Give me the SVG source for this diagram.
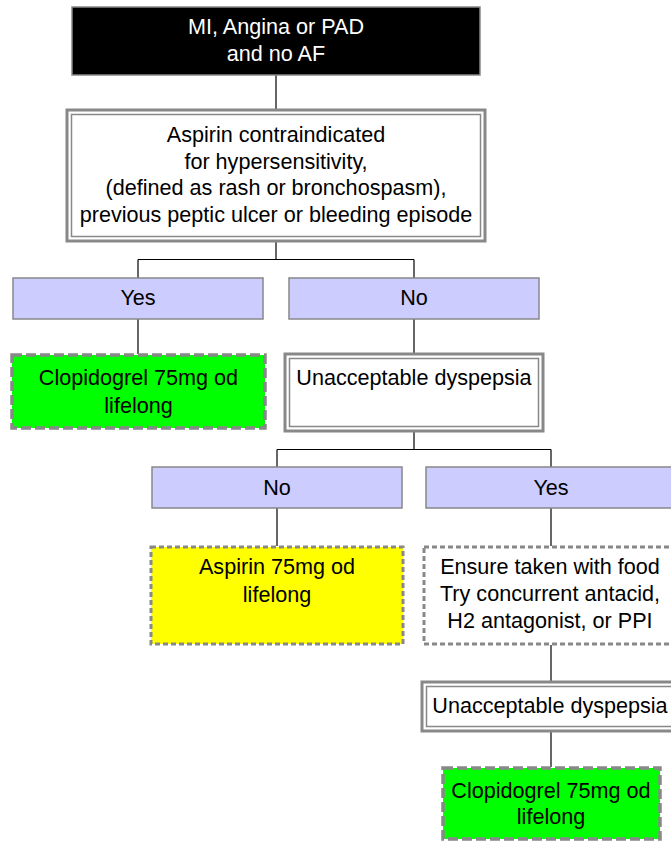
<svg xmlns="http://www.w3.org/2000/svg" width="671" height="841" viewBox="0 0 671 841">
<style>
text{font-family:"Liberation Sans",Arial,sans-serif;font-size:21.6px;text-anchor:middle;fill:#000}
.lbl{fill:#ccccff;stroke:#888;stroke-width:1.5}
.dbl{fill:#fff;stroke:#888;stroke-width:3}
.dbli{fill:none;stroke:#888;stroke-width:1.5}
.dash{stroke:#888;stroke-width:3.5;stroke-dasharray:10 4}
.dot{stroke:#888;stroke-width:3;stroke-dasharray:5 3}
.conn line{stroke:#000;stroke-width:1.2}
</style>
<g class="conn" id="connectors">
<line x1="276" y1="75" x2="276" y2="110"/>
<line x1="276" y1="241" x2="276" y2="259.5"/>
<line x1="138" y1="259.5" x2="414" y2="259.5"/>
<line x1="138" y1="259.5" x2="138" y2="278"/>
<line x1="414" y1="259.5" x2="414" y2="278"/>
<line x1="138" y1="319" x2="138" y2="354"/>
<line x1="414" y1="319" x2="414" y2="353"/>
<line x1="414" y1="432" x2="414" y2="449.5"/>
<line x1="277" y1="449.5" x2="551" y2="449.5"/>
<line x1="277" y1="449.5" x2="277" y2="467"/>
<line x1="551" y1="449.5" x2="551" y2="467"/>
<line x1="277" y1="508" x2="277" y2="546"/>
<line x1="551" y1="508" x2="551" y2="546"/>
<line x1="551" y1="645" x2="551" y2="681"/>
<line x1="551" y1="732" x2="551" y2="767"/>
</g>
<g id="start">
<rect x="72" y="7" width="408" height="68" fill="#000" stroke="#888" stroke-width="1.5"/>
<text x="276" y="34" style="fill:#fff">MI, Angina or PAD</text>
<text x="276" y="61" style="fill:#fff">and no AF</text>
</g>
<g id="contra">
<rect class="dbl" x="67" y="110" width="418" height="131"/>
<rect class="dbli" x="71.5" y="114.5" width="409" height="122"/>
<text x="276" y="142">Aspirin contraindicated</text>
<text x="276" y="168.5">for hypersensitivity,</text>
<text x="276" y="195">(defined as rash or bronchospasm),</text>
<text x="276" y="221.5">previous peptic ulcer or bleeding episode</text>
</g>
<g id="yes1">
<rect class="lbl" x="13" y="278" width="250" height="41"/>
<text x="138" y="304.5">Yes</text>
</g>
<g id="no1">
<rect class="lbl" x="289" y="278" width="250" height="41"/>
<text x="414" y="304.5">No</text>
</g>
<g id="clop1">
<rect class="dash" x="12" y="355" width="253" height="73" fill="#00ff00"/>
<text x="138.5" y="385">Clopidogrel 75mg od</text>
<text x="138.5" y="412.5">lifelong</text>
</g>
<g id="dysp1">
<rect class="dbl" x="285" y="354" width="258" height="77"/>
<rect class="dbli" x="289.5" y="358.5" width="249" height="68"/>
<text x="414" y="385">Unacceptable dyspepsia</text>
</g>
<g id="no2">
<rect class="lbl" x="152" y="467" width="250" height="41"/>
<text x="277" y="494.5">No</text>
</g>
<g id="yes2">
<rect class="lbl" x="426" y="467" width="250" height="41"/>
<text x="551" y="494.5">Yes</text>
</g>
<g id="asp">
<rect class="dot" x="151" y="547" width="252" height="97" fill="#ffff00"/>
<text x="277" y="574">Aspirin 75mg od</text>
<text x="277" y="601.5">lifelong</text>
</g>
<g id="ensure">
<rect class="dot" x="424" y="547" width="254" height="97" fill="#fff"/>
<text x="550" y="574">Ensure taken with food</text>
<text x="550" y="601">Try concurrent antacid,</text>
<text x="550" y="628">H2 antagonist, or PPI</text>
</g>
<g id="dysp2">
<rect class="dbl" x="422" y="682" width="258" height="49"/>
<rect class="dbli" x="426.5" y="686.5" width="249" height="40"/>
<text x="550" y="713">Unacceptable dyspepsia</text>
</g>
<g id="clop2">
<rect class="dash" x="443" y="768" width="217" height="71" fill="#00ff00"/>
<text x="551" y="797.5">Clopidogrel 75mg od</text>
<text x="551" y="823.5">lifelong</text>
</g>
</svg>
